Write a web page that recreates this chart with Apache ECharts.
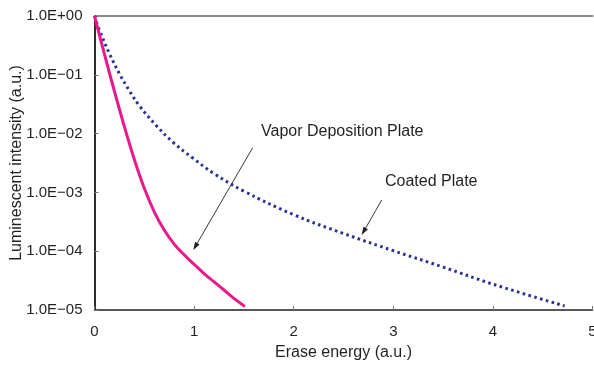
<!DOCTYPE html>
<html>
<head>
<meta charset="utf-8">
<script src="https://cdn.jsdelivr.net/npm/echarts@6/dist/echarts.min.js"></script>
<style>
  html, body { margin: 0; padding: 0; background: #fff; }
  #chart { width: 594px; height: 365px; }
</style>
</head>
<body>
<div id="chart"></div>
<script>
// Erase curves, log intensity vs erase energy.
const FONT = '"Liberation Sans", Arial, sans-serif';
const INK = '#231f20';
const PINK = '#e8198b';
const NAVY = '#2b3190';

const vaporX = [0, 0.1, 0.2, 0.3, 0.4, 0.5, 0.6, 0.7, 0.8, 0.9, 1.0, 1.1, 1.2, 1.3, 1.4, 1.51];
const vaporY = [1.0, 0.224, 0.0525, 0.01318, 3.63e-3, 1.175e-3, 4.68e-4, 2.29e-4, 1.32e-4,
  8.7e-5, 6.0e-5, 4.17e-5, 3.02e-5, 2.19e-5, 1.58e-5, 1.15e-5];

const coatedX = [0, 0.05, 0.15, 0.256, 0.35, 0.457, 0.624, 0.79, 0.99, 1.2, 1.5, 2.0, 2.5, 3.0, 3.5, 4.0, 4.72];
const coatedY = [1.0, 0.575, 0.229, 0.1, 0.0537, 0.0288, 0.0135, 7.08e-3, 3.8e-3, 2.09e-3, 1.05e-3,
  4.17e-4, 2.0e-4, 1.02e-4, 5.37e-5, 2.75e-5, 1.17e-5];

const zip = (xs, ys) => xs.map((x, i) => [x, ys[i]]);

// 1e-3 -> "1.0E−03"
function sciLabel(v) {
  const e = Math.round(Math.log10(v));
  const sign = e < 0 ? '\u2212' : '+';
  return '1.0E' + sign + String(Math.abs(e)).padStart(2, '0');
}

// thin line + small filled head, pointing at (x2, y2)
function arrow(x1, y1, x2, y2) {
  const a = Math.atan2(y2 - y1, x2 - x1);
  const L = 8, W = 2.6;
  const bx = x2 - L * Math.cos(a), by = y2 - L * Math.sin(a);
  const nx = -Math.sin(a) * W, ny = Math.cos(a) * W;
  return [
    { type: 'line', shape: { x1, y1, x2: bx, y2: by }, style: { stroke: INK, lineWidth: 0.9 }, silent: true },
    { type: 'polygon', shape: { points: [[x2, y2], [bx + nx, by + ny], [bx - nx, by - ny]] },
      style: { fill: INK }, silent: true },
  ];
}

const chart = echarts.init(document.getElementById('chart'), null, { renderer: 'canvas' });

chart.setOption({
  animation: false,
  textStyle: { fontFamily: FONT },
  grid: { left: 94.5, right: 1.5, top: 16, bottom: 55, containLabel: false, outerBoundsMode: 'none' },
  xAxis: [{
    type: 'value', min: 0, max: 5, interval: 1,
    name: 'Erase energy (a.u.)', nameLocation: 'middle', nameGap: 35,
    nameTextStyle: { color: INK, fontSize: 16, fontFamily: FONT },
    axisLine: { show: true, onZero: false, lineStyle: { color: INK, width: 1.5 } },
    axisTick: { show: true, inside: true, length: 4, lineStyle: { color: '#777' } },
    axisLabel: { color: INK, fontSize: 15, margin: 14, fontFamily: FONT, showMaxLabel: true, hideOverlap: false },
    splitLine: { show: false },
  }, {
    type: 'value', min: 0, max: 5, position: 'top',
    axisLine: { show: true, lineStyle: { color: '#8a8a8a', width: 2 } },
    axisTick: { show: false }, axisLabel: { show: false }, splitLine: { show: false },
  }],
  yAxis: [{
    type: 'log', logBase: 10, min: 1e-5, max: 1,
    name: 'Luminescent intensity (a.u.)', nameLocation: 'middle', nameGap: 70, nameMoveOverlap: false,
    nameTextStyle: { color: INK, fontSize: 16, fontFamily: FONT },
    axisLine: { show: true, onZero: false, lineStyle: { color: INK, width: 1.5 } },
    axisTick: { show: true, inside: true, length: 4, lineStyle: { color: '#777' } },
    minorTick: { show: false },
    axisLabel: { color: INK, fontSize: 15, margin: 12, fontFamily: FONT, formatter: sciLabel },
    splitLine: { show: false },
  }, {
    type: 'log', logBase: 10, min: 1e-5, max: 1, position: 'right',
    axisLine: { show: true, lineStyle: { color: INK, width: 1.5 } },
    axisTick: { show: false }, axisLabel: { show: false }, splitLine: { show: false },
  }],
  series: [{
    name: 'Vapor Deposition Plate',
    type: 'line',
    data: zip(vaporX, vaporY),
    smooth: 0.4,
    showSymbol: false,
    lineStyle: { color: PINK, width: 3 },
    z: 3,
  }, {
    name: 'Coated Plate',
    type: 'line',
    data: zip(coatedX, coatedY),
    smooth: 0.4,
    showSymbol: false,
    lineStyle: { color: NAVY, width: 3, type: [2.6, 3.4], cap: 'butt' },
    z: 2,
  }],
  graphic: [
    { type: 'text', x: 261, y: 132,
      style: { text: 'Vapor Deposition Plate', fill: INK, font: '16px ' + FONT, verticalAlign: 'middle' }, silent: true },
    { type: 'text', x: 385, y: 182,
      style: { text: 'Coated Plate', fill: INK, font: '16px ' + FONT, verticalAlign: 'middle' }, silent: true },
    ...arrow(252.7, 147.7, 193.3, 250),
    ...arrow(381.7, 200, 361.7, 235),
  ],
});
</script>
</body>
</html>
